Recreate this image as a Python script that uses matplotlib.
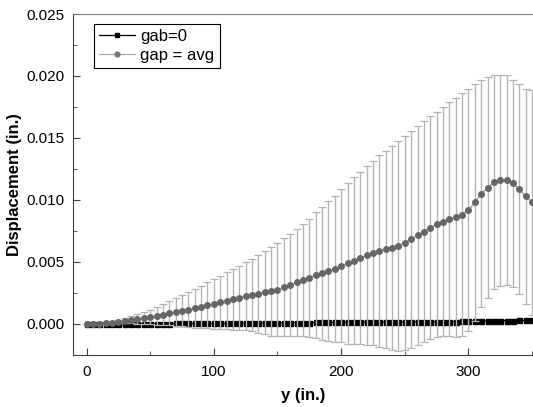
import numpy as np
import matplotlib
matplotlib.use("Agg")
import matplotlib.pyplot as plt
from matplotlib.ticker import MultipleLocator, FormatStrFormatter
from matplotlib.lines import Line2D

plt.rcParams['font.family'] = ['Liberation Sans', 'DejaVu Sans']

# position along y (in.)
y_pos = np.arange(0, 355, 5)

# gab = 0 (black squares)
gab0 = [0, 0, 0, 0, 0, 0.00001, 0.00001, 0.00001, 0.00002, 0.00002, 0.00002,
        0.00003, 0.00003, 0.00003, 0.00004, 0.00004, 0.00004, 0.00005, 0.00005, 0.00005, 0.00005,
        0.00006, 0.00006, 0.00007, 0.00007, 0.00008, 0.00008, 0.00008, 0.00009, 0.00009, 0.0001,
        0.0001, 0.0001, 0.00011, 0.00011, 0.00011, 0.00012, 0.00012, 0.00012, 0.00013, 0.00013,
        0.00014, 0.00014, 0.00014, 0.00015, 0.00015, 0.00016, 0.00016, 0.00016, 0.00017, 0.00017,
        0.00017, 0.00018, 0.00018, 0.00019, 0.00019, 0.00019, 0.0002, 0.0002, 0.00021, 0.00021,
        0.00023, 0.00024, 0.00025, 0.00026, 0.00027, 0.00027, 0.00028, 0.00029, 0.00029, 0.0003]

# gap = avg, mean (grey dots)
gap_avg = [0.0, 0.0, 0.00002, 0.00005, 0.0001, 0.00018, 0.00025, 0.00033, 0.0004, 0.00048, 0.00056,
           0.00065, 0.00075, 0.00085, 0.00095, 0.00105, 0.00115, 0.00126, 0.00138, 0.0015, 0.00161,
           0.00175, 0.00188, 0.00199, 0.00212, 0.00223, 0.00234, 0.00245, 0.00256, 0.00263, 0.00277,
           0.00296, 0.00315, 0.00336, 0.00355, 0.00374, 0.00393, 0.00409, 0.00427, 0.00446, 0.0047,
           0.00489, 0.00511, 0.00532, 0.00554, 0.00573, 0.00589, 0.00602, 0.00616, 0.00632, 0.00656,
           0.00683, 0.00715, 0.00745, 0.00777, 0.00804, 0.00825, 0.00844, 0.0086, 0.00882, 0.00919,
           0.0098, 0.0105, 0.011, 0.01143, 0.0116, 0.0116, 0.01135, 0.01086, 0.0103, 0.0098]

# gap = avg, top of the error bars
gap_upper = [0.0, 0.0, 0.00003, 0.00008, 0.00017, 0.0003, 0.00045, 0.00062, 0.0008, 0.00098, 0.00115,
             0.00135, 0.00158, 0.00182, 0.00206, 0.0023, 0.00256, 0.00282, 0.00308, 0.00335, 0.00363,
             0.00387, 0.00419, 0.00444, 0.0047, 0.00497, 0.00527, 0.00559, 0.00589, 0.00621, 0.00653,
             0.00691, 0.00729, 0.00766, 0.00809, 0.00849, 0.00901, 0.00946, 0.00992, 0.01035, 0.01086,
             0.01137, 0.01183, 0.01226, 0.01277, 0.01317, 0.0136, 0.01398, 0.01438, 0.01478, 0.01519,
             0.01556, 0.01597, 0.01637, 0.01675, 0.01712, 0.0175, 0.01788, 0.01825, 0.0186, 0.01895,
             0.01933, 0.01965, 0.01989, 0.02005, 0.0201, 0.02005, 0.0197, 0.01933, 0.01898, 0.01887]

gap_err = np.array(gap_upper) - np.array(gap_avg)

fig = plt.figure(figsize=(5.33, 4.07), dpi=100)
ax = fig.add_axes([0.137, 0.1278, 0.863, 0.8378])

ax.plot(y_pos, gab0, color="black", marker="s", markersize=3.6, linewidth=0.9, zorder=2)
ax.errorbar(y_pos, gap_avg, yerr=gap_err, color="#999999", marker="o", markersize=4.0,
            markerfacecolor="#666666", markeredgecolor="#666666",
            linewidth=0.9, ecolor="#b4b4b4", elinewidth=1.0, capsize=2.6, capthick=0.9,
            zorder=3)

ax.set_xlim(-10.6, 350.7)
ax.set_ylim(-0.0025, 0.025)

ax.xaxis.set_major_locator(MultipleLocator(100))
ax.xaxis.set_minor_locator(MultipleLocator(50))
ax.yaxis.set_major_locator(MultipleLocator(0.005))
ax.yaxis.set_minor_locator(MultipleLocator(0.0025))
ax.yaxis.set_major_formatter(FormatStrFormatter("%.3f"))

ax.tick_params(axis="both", which="both", direction="in", labelsize=11, color="#404040")
ax.tick_params(axis="both", which="major", length=5)
ax.tick_params(axis="both", which="minor", length=3)
ax.tick_params(axis="x", which="both", pad=7)
ax.tick_params(axis="y", which="both", pad=6)

ax.spines["right"].set_visible(False)
ax.spines["top"].set_color("#808080")
ax.spines["left"].set_color("#404040")
ax.spines["bottom"].set_color("#404040")

ax.set_xlabel("y (in.)", fontsize=12, fontweight="bold", labelpad=7)
ax.set_ylabel("Displacement (in.)", fontsize=12, fontweight="bold", labelpad=3)

handles = [
    Line2D([], [], color="black", marker="s", markersize=3.2, linewidth=0.9),
    Line2D([], [], color="#aaaaaa", marker="o", markersize=3.4, linewidth=0.9,
           markerfacecolor="#777777", markeredgecolor="#777777"),
]
leg = ax.legend(handles, ["gab=0", "gap = avg"], loc="upper left",
                bbox_to_anchor=(0.045, 0.972), borderaxespad=0,
                fontsize=12, fancybox=False, edgecolor="black", framealpha=1,
                handlelength=2.2, handletextpad=0.3, borderpad=0.3, labelspacing=0.25)
leg.get_frame().set_linewidth(0.8)

fig.savefig("out.png", dpi=100)
